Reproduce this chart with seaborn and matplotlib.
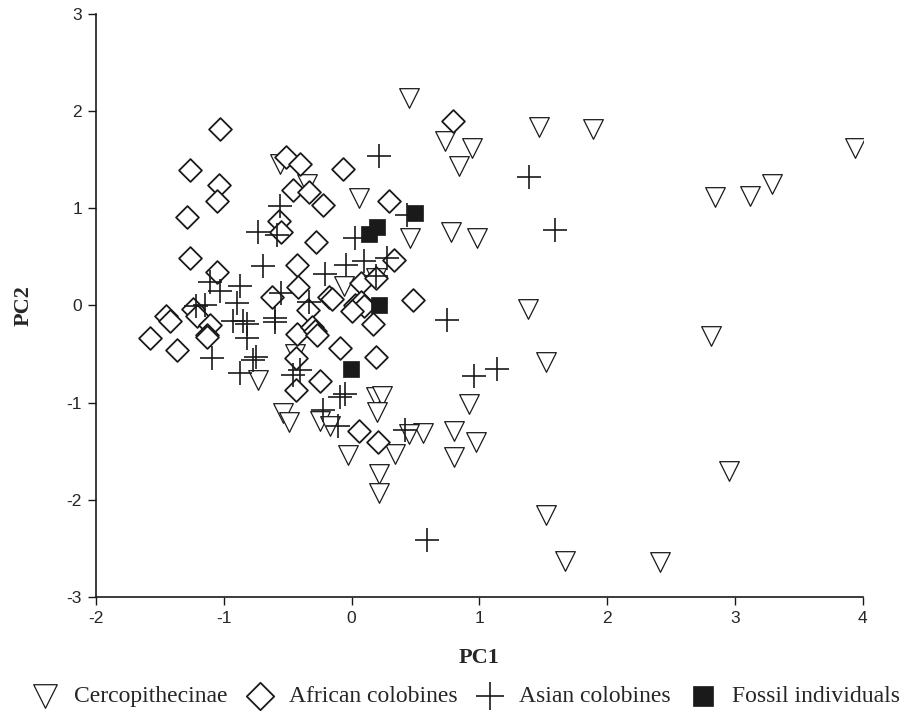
import matplotlib
matplotlib.use("Agg")
import matplotlib.pyplot as plt
import seaborn as sns
import pandas as pd

# ---- data ----
cerco_x = [0.45, 0.73, 0.94, 0.84, 1.47, 1.89, 3.94, 2.84, 3.12, 3.29, 0.06, -0.56, -0.35,
           0.46, 0.78, 0.98, 0.19, -0.06, 1.38, 2.81, 1.52, -0.44, -0.73, 0.915, 0.80, 0.97,
           0.80, 0.56, 0.45, 0.19, 0.235, 0.20, -0.535, -0.49, -0.25, -0.165, 0.34, -0.03,
           0.216, 0.216, 1.525, 1.67, 2.41, 2.95]
cerco_y = [2.13, 1.69, 1.62, 1.43, 1.83, 1.81, 1.62, 1.11, 1.13, 1.25, 1.10, 1.45, 1.25,
           0.69, 0.76, 0.69, 0.28, 0.20, -0.04, -0.31, -0.58, -0.50, -0.77, -1.01, -1.29, -1.40,
           -1.56, -1.31, -1.32, -0.94, -0.93, -1.10, -1.11, -1.20, -1.19, -1.24, -1.53, -1.54,
           -1.73, -1.93, -2.16, -2.63, -2.64, -1.70]

afr_x = [0.79, -1.03, -1.265, -1.04, -1.05, -1.29, -1.265, -1.05, -0.51, -0.40, -0.07, -0.46,
         -0.33, -0.22, 0.29, -0.57, -0.55, -0.28, -0.43, 0.33, -0.42, -0.62, 0.07, 0.19, -0.18,
         -0.15, 0.03, 0.07, 0.10, 0.0, 0.48, 0.17, -0.34, -0.43, -0.31, -0.29, -0.27, -0.09,
         0.19, -0.435, -0.25, -0.435, 0.06, 0.21, -1.58, -1.365, -1.45, -1.42, -1.24, -1.21,
         -1.11, -1.135, -1.13]
afr_y = [1.90, 1.81, 1.39, 1.24, 1.07, 0.91, 0.49, 0.34, 1.53, 1.45, 1.40, 1.19,
         1.17, 1.03, 1.07, 0.87, 0.75, 0.65, 0.42, 0.47, 0.19, 0.09, 0.23, 0.28, 0.09,
         0.07, 0.00, 0.04, -0.01, -0.06, 0.06, -0.19, -0.05, -0.29, -0.22, -0.26, -0.30, -0.44,
         -0.53, -0.54, -0.78, -0.87, -1.29, -1.41, -0.34, -0.46, -0.11, -0.16, -0.04, -0.11,
         -0.20, -0.30, -0.33]

asian_x = [0.216, 1.385, 1.59, 0.43, 0.03, 0.28, -0.045, 0.10, -0.21, -0.33, 0.75, 0.955,
           1.14, 0.42, 0.59, -0.09, -0.05, -0.22, -0.105, -0.56, -0.73, -0.58, -0.69, -1.11,
           -1.03, -0.875, -0.55, -0.90, -1.22, -1.15, -0.93, -0.85, -0.82, -0.60, -0.60, -0.82,
           -0.77, -0.745, -0.875, -1.095, -0.46, -0.40, 0.19]
asian_y = [1.54, 1.32, 0.78, 0.93, 0.69, 0.49, 0.42, 0.46, 0.32, 0.03, -0.15, -0.73,
           -0.65, -1.28, -2.41, -0.94, -0.91, -1.08, -1.24, 1.02, 0.76, 0.72, 0.41, 0.24,
           0.15, 0.20, 0.13, 0.02, -0.01, 0.00, -0.16, -0.16, -0.19, -0.13, -0.17, -0.34,
           -0.56, -0.53, -0.70, -0.54, -0.72, -0.66, 0.30]

fossil_x = [0.50, 0.20, 0.14, 0.216, -0.005]
fossil_y = [0.95, 0.81, 0.73, 0.0, -0.65]

group_names = ["Cercopithecinae", "African colobines", "Asian colobines", "Fossil individuals"]
x_ticks = [-2, -1, 0, 1, 2, 3, 4]
y_ticks = [-3, -2, -1, 0, 1, 2, 3]

# ---- style ----
sns.set_style("ticks")
plt.rcParams["font.family"] = ["Liberation Serif", "DejaVu Serif"]

fig = plt.figure(figsize=(9.14, 7.22), dpi=100)
ax = fig.add_axes([0.105, 0.173, 0.839, 0.808])

df_c = pd.DataFrame({"x": cerco_x, "y": cerco_y})
df_a = pd.DataFrame({"x": afr_x, "y": afr_y})
df_s = pd.DataFrame({"x": asian_x, "y": asian_y})
df_f = pd.DataFrame({"x": fossil_x, "y": fossil_y})

sns.scatterplot(data=df_c, x="x", y="y", ax=ax, marker="v", s=200, facecolor="white",
                edgecolor="#1a1a1a", linewidth=0.9, label=group_names[0], zorder=3)
sns.scatterplot(data=df_a, x="x", y="y", ax=ax, marker="D", s=135, facecolor="white",
                edgecolor="#1a1a1a", linewidth=1.3, label=group_names[1], zorder=3)
sns.scatterplot(data=df_s, x="x", y="y", ax=ax, marker="+", s=300, color="#1a1a1a",
                linewidth=1.2, label=group_names[2], zorder=4)
sns.scatterplot(data=df_f, x="x", y="y", ax=ax, marker="s", s=140, color="#1a1a1a",
                edgecolor="#1a1a1a", linewidth=0.5, label=group_names[3], zorder=5)

ax.set_xlim(-2, 4)
ax.set_ylim(-3, 3)
ax.set_xticks(x_ticks)
ax.set_yticks(y_ticks)
ax.set_xticklabels([str(t) for t in x_ticks], fontfamily="Liberation Sans", fontsize=12.5)
ax.set_yticklabels([str(t) for t in y_ticks], fontfamily="Liberation Sans", fontsize=12.5)
ax.tick_params(direction="out", length=6, width=1, color="#1a1a1a", pad=4)
for side in ["top", "right"]:
    ax.spines[side].set_visible(False)
for side in ["left", "bottom"]:
    ax.spines[side].set_color("#1a1a1a")
    ax.spines[side].set_linewidth(1.2)

ax.set_xlabel("PC1", fontsize=16, fontweight="bold", labelpad=16)
ax.set_ylabel("PC2", fontsize=16, fontweight="bold", labelpad=24)

handles, labels = ax.get_legend_handles_labels()
ax.get_legend().remove()
fig.legend(handles, labels, loc="lower center", bbox_to_anchor=(0.508, -0.006), ncol=4,
           frameon=False, fontsize=17, handlelength=1.4, handletextpad=0.5,
           columnspacing=0.7, borderaxespad=0.4, markerscale=1.2)

fig.savefig("out.png", dpi=100, facecolor="white")
